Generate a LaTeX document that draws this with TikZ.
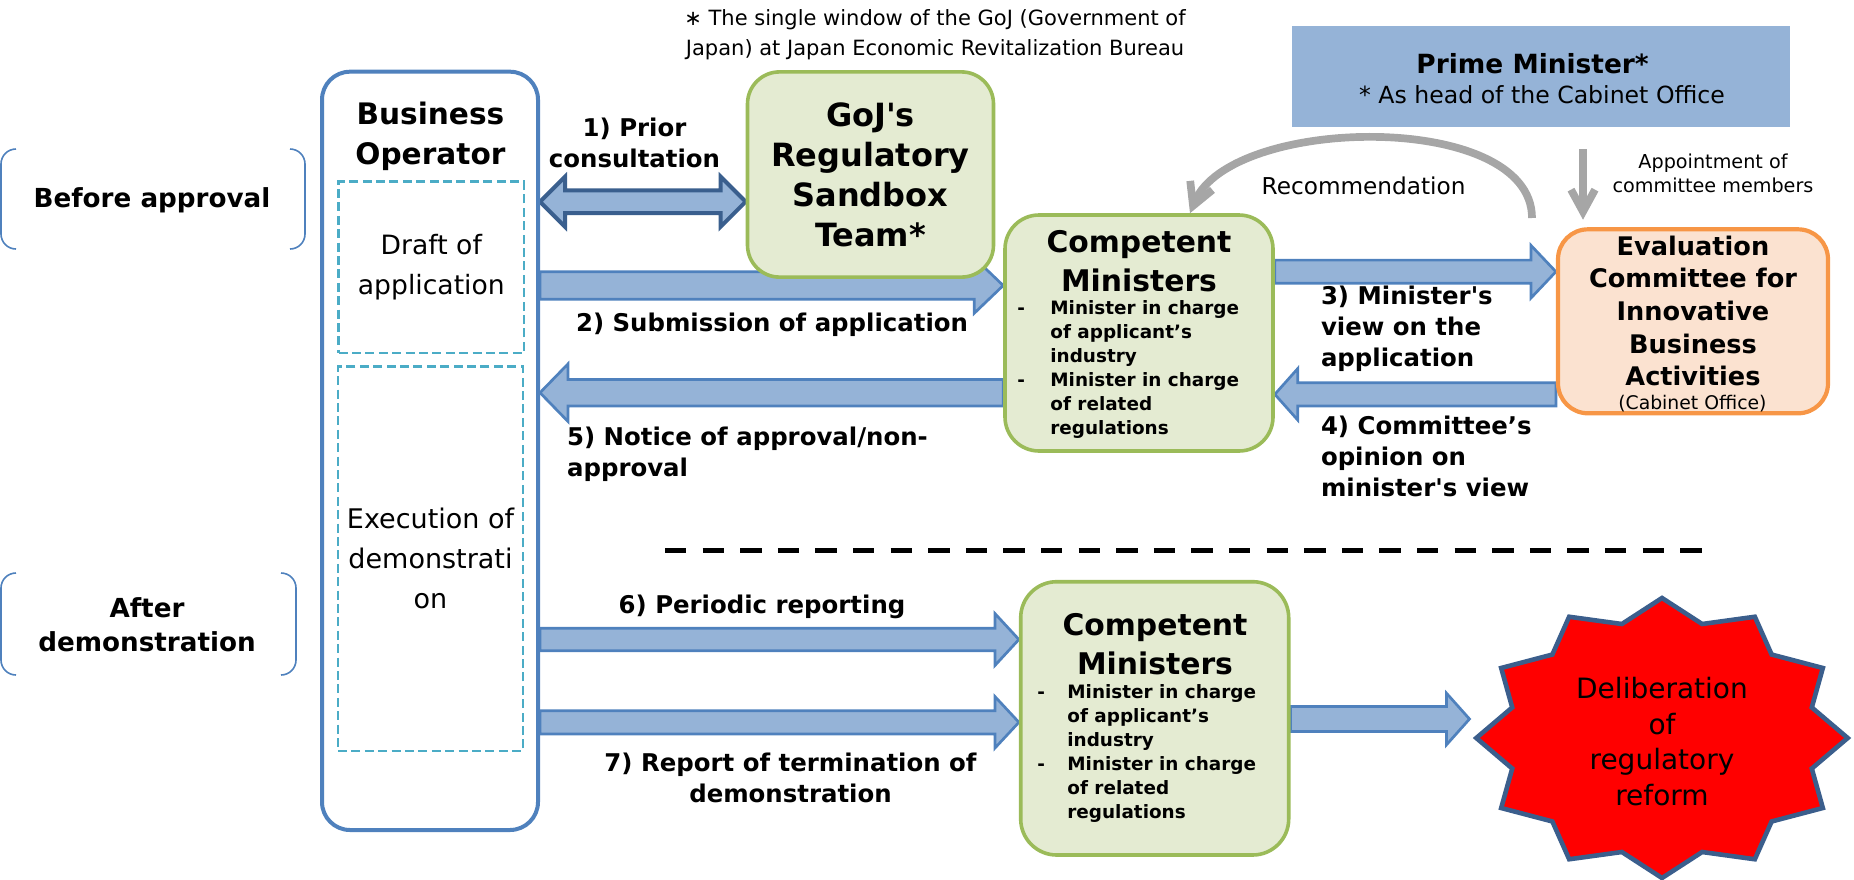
\documentclass[tikz,border=0pt]{standalone}
\usepackage{fontspec}
\setmainfont{DejaVu Sans}[Ligatures=TeXOff]
\usetikzlibrary{arrows.meta,calc,backgrounds}

\definecolor{bblue}{HTML}{4F81BD}
\definecolor{aqua}{HTML}{4BACC6}
\definecolor{afill}{HTML}{95B3D7}
\definecolor{dblue}{HTML}{3A5F8E}
\definecolor{ggreen}{HTML}{9BBB59}
\definecolor{gfill}{HTML}{E4EBD2}
\definecolor{orng}{HTML}{F79646}
\definecolor{ofill}{HTML}{FBE2D0}
\definecolor{greyar}{HTML}{A6A6A6}
\definecolor{starred}{HTML}{FF0000}
\definecolor{starline}{HTML}{3B5E8C}

\newcommand\fsz[2]{\fontsize{#1}{#2}\selectfont}

% right-pointing block arrow: #2 start, #3 tip, #4 shaft half, #5 head half, #6 head length
\newcommand\rblock[6][barrow]{%
 \draw[#1] let \p1=(#2), \p2=(#3) in
 (\x1,\y1+#4) -- (\x2-#6,\y1+#4) -- (\x2-#6,\y1+#5) -- (\x2,\y1) -- (\x2-#6,\y1-#5) -- (\x2-#6,\y1-#4) -- (\x1,\y1-#4) -- cycle;}
% left-pointing block arrow
\newcommand\lblock[6][barrow]{%
 \draw[#1] let \p1=(#2), \p2=(#3) in
 (\x1,\y1+#4) -- (\x2+#6,\y1+#4) -- (\x2+#6,\y1+#5) -- (\x2,\y1) -- (\x2+#6,\y1-#5) -- (\x2+#6,\y1-#4) -- (\x1,\y1-#4) -- cycle;}
% double block arrow: #2 left tip, #3 right tip
\newcommand\dblock[6][darrow]{%
 \draw[#1] let \p1=(#2), \p2=(#3) in
 (\x1,\y1) -- (\x1+#6,\y1+#5) -- (\x1+#6,\y1+#4) -- (\x2-#6,\y1+#4) -- (\x2-#6,\y1+#5) -- (\x2,\y1) -- (\x2-#6,\y1-#5) -- (\x2-#6,\y1-#4) -- (\x1+#6,\y1-#4) -- (\x1+#6,\y1-#5) -- cycle;}

\begin{document}
\begin{tikzpicture}[x=0.5pt,y=-0.5pt,
  bobox/.style={draw=bblue, line width=2pt, rounded corners=14pt, fill=white},
  dbox/.style={draw=aqua, line width=1.4pt, dash pattern=on 4.5pt off 2.2pt},
  gbox/.style={draw=ggreen, fill=gfill, line width=1.8pt, rounded corners=16pt},
  obox/.style={draw=orng, fill=ofill, line width=2.1pt, rounded corners=15pt},
  brk/.style={draw=bblue, line width=0.8pt, rounded corners=7.5pt},
  phase/.style={font=\bfseries\fsz{13.1}{16.8}, align=center, inner sep=0pt},
  lbl/.style={font=\bfseries\fsz{12.2}{15.5}, align=center, inner sep=0pt},
  sepline/.style={draw=black, line width=2.4pt, dash pattern=on 10.65pt off 8.15pt},
  greyarr/.style={draw=greyar, line width=3.85pt, -{Straight Barb[length=11pt,width=12pt]}},
  starst/.style={draw=starline, fill=starred, line width=2.3pt, line join=miter},
  barrow/.style={draw=bblue, fill=afill, line width=1.35pt, line join=miter},
  darrow/.style={draw=dblue, fill=afill, line width=2pt, line join=miter},
  bul/.style={anchor=west, font=\bfseries\fsz{9.2}{12}, inner sep=0pt}
]
\useasboundingbox (0,0) rectangle (1854,879);

% phase brackets
\draw[brk] (16,149) -- (1,149) -- (1,249) -- (16,249);
\draw[brk] (290,149) -- (305,149) -- (305,249) -- (290,249);
\node[phase] (before) at (152,200) {Before approval};
\draw[brk] (16,573) -- (1,573) -- (1,675) -- (16,675);
\draw[brk] (281,573) -- (296,573) -- (296,675) -- (281,675);
\node[phase] (after) at (147,625) {After\\demonstration};

% business operator
\node[bobox, minimum width=108pt, minimum height=379.15pt] (bo) at (430,450.85) {};
\node[font=\bfseries\fsz{14.8}{20}, align=center] (bot) at (430.4,136.7) {Business\\Operator};
\node[dbox, minimum width=92.7pt, minimum height=85.65pt, align=center, font=\fsz{13.3}{20}] (draft) at (431.3,267.35) {Draft of\\application};
\node[dbox, minimum width=92.5pt, minimum height=192.15pt, align=center, font=\fsz{13.5}{20}] (exec) at (430.5,558.85) {Execution of\\demonstrati\\on};

% footnote
\node[font=\fsz{10.5}{15}, align=center] (note) at (935,34.7) {∗ The single window of the GoJ (Government of\\Japan) at Japan Economic Revitalization Bureau};

% GoJ team
\node[gbox, minimum width=123pt, minimum height=102.6pt, align=center, font=\bfseries\fsz{16}{20}] (goj) at (870.5,174.5) {GoJ's\\Regulatory\\Sandbox\\Team*};

% competent ministers (top)
\node[gbox, rounded corners=17pt, minimum width=134pt, minimum height=118pt] (cm1) at (1139,333) {};
\node[font=\bfseries\fsz{14.9}{19.2}, align=center] (cm1t) at (1139,261) {Competent\\Ministers};
\node[bul] (cm1b) at (1017,370) {\begin{tabular}{@{}p{16.5pt}@{}l@{}}-&Minister in charge\\ &of applicant’s\\ &industry\\-&Minister in charge\\ &of related\\ &regulations\end{tabular}};

% competent ministers (bottom)
\node[gbox, rounded corners=18pt, minimum width=134pt, minimum height=136.65pt] (cm2) at (1154.7,718.35) {};
\node[font=\bfseries\fsz{14.9}{19.2}, align=center] (cm2t) at (1155,644) {Competent\\Ministers};
\node[bul] (cm2b) at (1037,754) {\begin{tabular}{@{}p{15pt}@{}l@{}}-&Minister in charge\\ &of applicant’s\\ &industry\\-&Minister in charge\\ &of related\\ &regulations\end{tabular}};

% evaluation committee
\node[obox, minimum width=135pt, minimum height=92pt] (eval) at (1693,321.3) {};
\node[font=\bfseries\fsz{12.8}{16.3}, align=center] (evt) at (1693,311) {Evaluation\\Committee for\\Innovative\\Business\\Activities};
\node[font=\fsz{9.4}{10}] (cab) at (1692.4,404) {(Cabinet Office)};

% prime minister
\node[fill=afill, minimum width=249pt, minimum height=50.35pt] (pm) at (1541,76.35) {};
\node[font=\bfseries\fsz{13.2}{16}] (pmt) at (1532.6,63.3) {Prime Minister*};
\node[font=\fsz{11.8}{14}] (pms) at (1542,94.3) {* As head of the Cabinet Office};

% separator
\coordinate (sepL) at (665,550.7);
\coordinate (sepR) at (1702,550.7);
\draw[sepline] (sepL) -- (sepR);

% star
\node[minimum width=185.7pt, minimum height=140pt, inner sep=0pt] (star) at (1662,738) {};
\draw[starst] ({1662+185.7},738) \foreach \i in {1,...,23}{ -- ({1662+185.7*(1-0.165*mod(\i,2))*cos(15*\i)},{738+140*(1-0.157*mod(\i,2))*sin(15*\i)}) } -- cycle;
\node[font=\fsz{14}{17.8}, align=center] (stt) at (1662,741.5) {Deliberation\\of\\regulatory\\reform};
\coordinate (stw) at (1469.5,719);

% arrow rows
\coordinate (y1) at (0,201.7);
\coordinate (y2) at (0,285.5);
\coordinate (y5) at (0,392.7);
\coordinate (y3) at (0,271.7);
\coordinate (y4) at (0,394.3);
\coordinate (y6) at (0,639.5);
\coordinate (y7) at (0,722.3);
\coordinate (y8) at (0,719);

\begin{pgfonlayer}{background}
\dblock{bo.east |- y1}{goj.west |- y1}{5.65pt}{12.5pt}{12.5pt}
\rblock{bo.east |- y2}{cm1.west}{6.9pt}{13.9pt}{14.5pt}
\lblock{cm1.west |- y5}{bo.east}{6.65pt}{14.4pt}{14pt}
\rblock{cm1.east |- y3}{eval.west}{5.8pt}{13.2pt}{12.5pt}
\lblock{eval.west |- y4}{cm1.east}{5.8pt}{12.9pt}{11.5pt}
\rblock{bo.east |- y6}{cm2.west}{5.6pt}{13pt}{12pt}
\rblock{bo.east |- y7}{cm2.west}{5.8pt}{12.9pt}{12pt}
\rblock{cm2.east |- y8}{stw}{6.25pt}{12.9pt}{11.5pt}
\end{pgfonlayer}

% arrow labels
\node[lbl] (l1) at (634.5,142.5) {1) Prior\\consultation};
\node[lbl] (l2) at (772,325) {2) Submission of application};
\node[lbl, anchor=west, align=left] (l5) at (566.7,454) {5) Notice of approval/non-\\approval};
\node[lbl, anchor=west, align=left] (l3) at (1320.6,328.3) {3) Minister's\\view on the\\application};
\node[lbl, anchor=west, align=left] (l4) at (1320.6,456.7) {4) Committee’s\\opinion on\\minister's view};
\node[lbl] (l6) at (762,606.7) {6) Periodic reporting};
\node[lbl] (l7) at (790.5,778) {7) Report of termination of\\demonstration};

% grey arrows
\coordinate (recS) at (1532,218);
\coordinate (recX) at (1190,0);
\draw[greyarr] (recS) .. controls (1532,110) and (1230,115) .. (cm1.north -| recX);
\node[font=\fsz{11.6}{13}] (rec) at (1363.6,185.7) {Recommendation};
\coordinate (appS) at (1583,149);
\draw[greyarr] (appS) -- ($(appS |- eval.north)+(0,-7.5)$);
\node[font=\fsz{9.6}{11.7}, align=center] (app) at (1713,173.3) {Appointment of\\committee members};
\end{tikzpicture}
\end{document}
